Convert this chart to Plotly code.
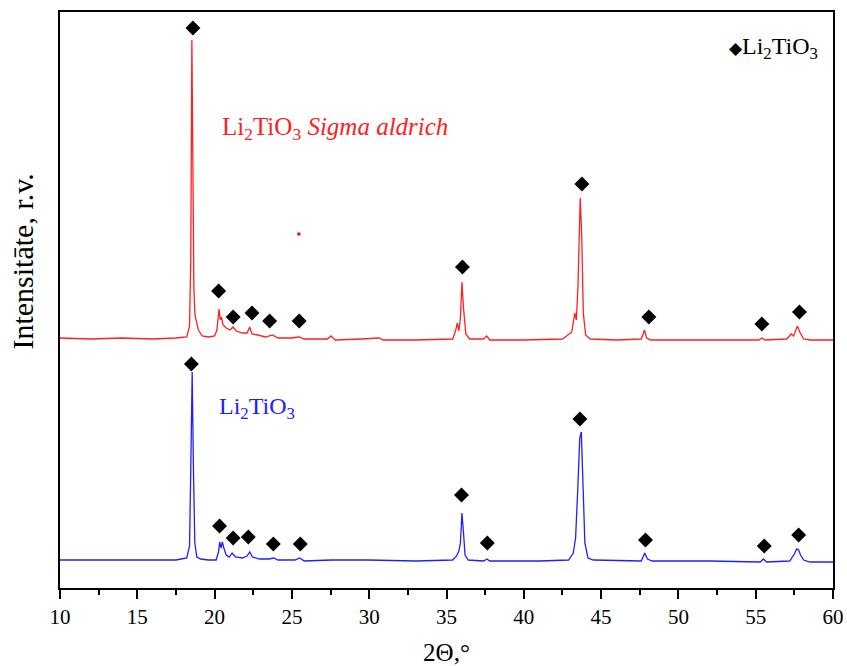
import plotly.graph_objects as go

# --- data (2Theta in degrees, intensity in arbitrary units, offset patterns) ---
red_x = [10.0, 12.0, 14.0, 16.0, 17.5, 18.2, 18.38, 18.46, 18.53, 18.6, 18.66, 18.73, 18.82, 18.95, 19.2, 19.6,
         20.0, 20.15, 20.29, 20.37, 20.44, 20.55, 20.75, 21.0, 21.19, 21.4, 21.8, 22.1, 22.27, 22.42, 22.8, 23.3,
         23.74, 24.1, 25.0, 25.47, 25.8, 27.3, 27.52, 27.8, 29.5, 30.65, 30.9, 33.0, 35.4, 35.6, 35.7, 35.8,
         35.9, 36.0, 36.1, 36.25, 36.5, 37.4, 37.6, 37.8, 40.0, 42.5, 43.1, 43.3, 43.4, 43.5, 43.65, 43.75,
         43.85, 44.0, 44.3, 46.0, 47.6, 47.8, 47.95, 48.2, 51.0, 55.2, 55.4, 55.6, 57.0, 57.3, 57.45, 57.55,
         57.7, 57.85, 58.1, 58.5, 60.0]
red_y = [250, 249, 250, 249, 250, 251, 262, 330, 548, 420, 300, 273, 268, 258, 252, 251,
         252, 258, 279, 268, 271, 263, 260, 258, 261, 257, 255, 255, 261, 254, 253, 251,
         253, 250, 250, 251, 249, 249, 252, 248, 249, 250, 248, 248, 249, 258, 265, 257,
         270, 306, 280, 254, 249, 249, 252, 248, 248, 249, 256, 275, 268, 300, 390, 350,
         275, 253, 249, 248, 249, 258, 250, 248, 248, 248, 250, 248, 249, 254, 252, 256,
         262, 256, 249, 248, 248]

blue_x = [10.0, 12.0, 14.0, 16.0, 17.5, 18.2, 18.38, 18.46, 18.55, 18.63, 18.72, 18.85, 19.1, 19.6, 20.1, 20.25,
          20.33, 20.42, 20.5, 20.6, 20.75, 20.95, 21.13, 21.35, 21.8, 22.1, 22.27, 22.45, 22.9, 23.5, 23.83, 24.1,
          25.2, 25.51, 25.8, 27.56, 29.9, 33.0, 35.4, 35.65, 35.8, 35.9, 36.0, 36.1, 36.2, 36.4, 37.4, 37.62,
          37.8, 41.0, 42.9, 43.2, 43.35, 43.48, 43.62, 43.72, 43.82, 43.95, 44.15, 44.5, 47.6, 47.82, 48.0, 48.3,
          52.0, 55.3, 55.5, 55.7, 57.2, 57.5, 57.65, 57.78, 57.9, 58.1, 58.5, 60.0]
blue_y = [28, 28, 28, 28, 28, 30, 42, 120, 216, 120, 45, 31, 29, 28, 28, 36,
          46, 40, 46, 40, 33, 31, 35, 31, 30, 32, 36, 31, 29, 29, 30, 28,
          28, 30, 27, 28, 28, 27, 28, 32, 37, 45, 75, 55, 33, 28, 27, 29,
          27, 27, 28, 35, 50, 95, 150, 156, 110, 45, 30, 28, 27, 35, 29, 27,
          27, 26, 29, 26, 27, 34, 39, 38, 33, 28, 26, 26]

red_peaks_x = [18.6, 20.26, 21.2, 22.42, 23.56, 25.47, 36.03, 43.76, 48.09, 55.4, 57.83]
red_peaks_y = [560, 297, 271, 275, 267, 267, 321, 404, 271, 264, 276]

blue_peaks_x = [18.5, 20.32, 21.2, 22.18, 23.8, 25.54, 35.97, 37.64, 43.63, 47.87, 55.55, 57.78]
blue_peaks_y = [224, 62, 50, 51, 44, 44, 93, 45, 169, 48, 42, 53]

artifact_x = [25.45]
artifact_y = [354]

x_ticks = [10, 15, 20, 25, 30, 35, 40, 45, 50, 55, 60]

FONT = "Liberation Serif"

fig = go.Figure()
fig.add_trace(go.Scatter(x=red_x, y=red_y, mode="lines",
                         line=dict(color="#ff2020", width=1.3), showlegend=False))
fig.add_trace(go.Scatter(x=blue_x, y=blue_y, mode="lines",
                         line=dict(color="#2020ff", width=1.3), showlegend=False))
fig.add_trace(go.Scatter(x=red_peaks_x, y=red_peaks_y, mode="markers",
                         marker=dict(symbol="diamond", size=11.5, color="black"), showlegend=False))
fig.add_trace(go.Scatter(x=blue_peaks_x, y=blue_peaks_y, mode="markers",
                         marker=dict(symbol="diamond", size=11.5, color="black"), showlegend=False))
fig.add_trace(go.Scatter(x=artifact_x, y=artifact_y, mode="markers",
                         marker=dict(symbol="square", size=3, color="#d01010"), showlegend=False))

fig.add_annotation(x=0.2075, y=0.797, xref="paper", yref="paper", xanchor="left", yanchor="middle",
                   text="Li<sub>2</sub>TiO<sub>3</sub> <i>Sigma aldrich</i>", showarrow=False,
                   font=dict(family=FONT, size=25, color="#ff2020"))
fig.add_annotation(x=0.203, y=0.313, xref="paper", yref="paper", xanchor="left", yanchor="middle",
                   text="Li<sub>2</sub>TiO<sub>3</sub>", showarrow=False,
                   font=dict(family=FONT, size=24, color="#2020ff"))
fig.add_annotation(x=0.983, y=0.938, xref="paper", yref="paper", xanchor="right", yanchor="middle",
                   text="<span style='font-size:17px'>◆</span>Li<sub>2</sub>TiO<sub>3</sub>", showarrow=False,
                   font=dict(family=FONT, size=24, color="black"))
# y-axis title (placed as in the reference, slightly above the plot centre)
fig.add_annotation(x=-0.049, y=0.567, xref="paper", yref="paper", xanchor="center", yanchor="middle",
                   text="Intensitāte, r.v.", textangle=-90, showarrow=False,
                   font=dict(family=FONT, size=30, color="black"))

fig.update_layout(
    width=847, height=666,
    margin=dict(l=60, r=14, t=12, b=78),
    paper_bgcolor="white", plot_bgcolor="white",
    font=dict(family=FONT, color="black"),
    xaxis=dict(range=[10, 60], tickvals=x_ticks, ticks="outside", ticklen=9, tickwidth=2,
               tickcolor="black", showline=True, linecolor="black", linewidth=2, mirror=True,
               showgrid=False, zeroline=False, tickfont=dict(family=FONT, size=21), automargin=False,
               minor=dict(dtick=2.5, ticks="outside", ticklen=5, tickwidth=2, tickcolor="black"),
               title=dict(text="2Θ,°", font=dict(family=FONT, size=25), standoff=18)),
    yaxis=dict(range=[0, 576], showticklabels=False, ticks="", showline=True, linecolor="black",
               linewidth=2, mirror=True, showgrid=False, zeroline=False, automargin=False),
)

fig.write_html("out.html")
